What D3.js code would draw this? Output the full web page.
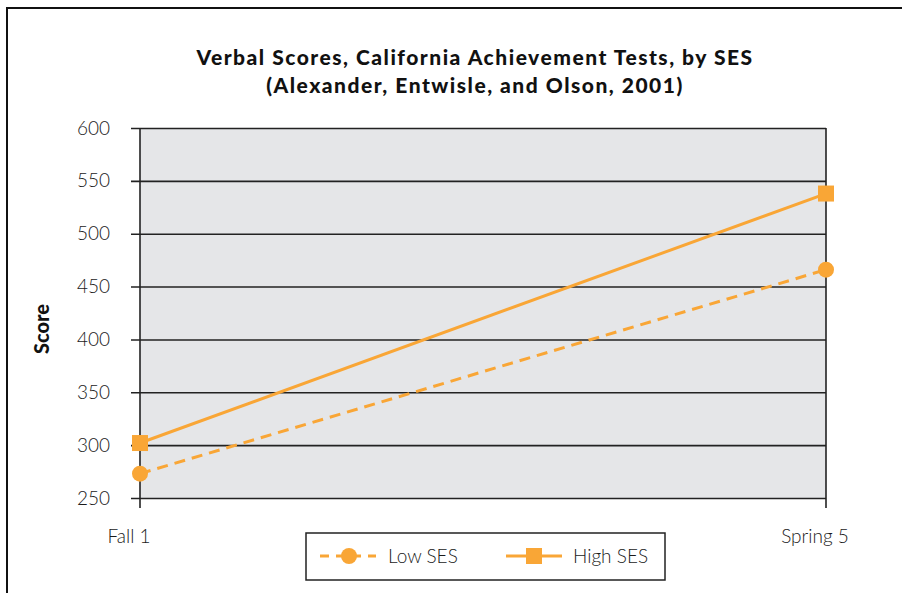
<!DOCTYPE html>
<html>
<head>
<meta charset="utf-8">
<script src="https://cdn.jsdelivr.net/npm/d3@7"></script>
<style>
	body { margin: 0; background: #fff; }
	svg text { font-family: Lato, "Open Sans", sans-serif; }
</style>
</head>
<body>
<script>
// Chart data
const periods = ['Fall 1', 'Spring 5'];
const lowSES = [273, 466];
const highSES = [302, 538];
const yTicks = [250, 300, 350, 400, 450, 500, 550, 600];
const titleLines = ['Verbal Scores, California Achievement Tests, by SES', '(Alexander, Entwisle, and Olson, 2001)'];

const W = 902, H = 593;
const margin = { top: 128, right: 76, bottom: 95, left: 140 };
const width = W - margin.left - margin.right;
const height = H - margin.top - margin.bottom;
const orange = '#F9A636';

const svg = d3.select('body').append('svg')
	.attr('width', W)
	.attr('height', H);

// outer frame
svg.append('rect')
	.attr('x', 7).attr('y', 8)
	.attr('width', 1000).attr('height', 1000)
	.attr('fill', 'none')
	.attr('stroke', '#111')
	.attr('stroke-width', 2);

// title
svg.append('g').selectAll('text')
	.data(titleLines)
	.enter().append('text')
	.attr('x', 475)
	.attr('y', (d, i) => 65 + i * 28)
	.attr('text-anchor', 'middle')
	.style('font-size', '21px')
	.style('font-weight', '900')
	.style('letter-spacing', '1.5px')
	.style('fill', '#111')
	.text(d => d);

const g = svg.append('g')
	.attr('transform', `translate(${margin.left}, ${margin.top})`);

const x = d3.scalePoint().domain(periods).range([0, width]);
const y = d3.scaleLinear().domain([250, 600]).range([height, 0]);

// plot background
g.append('rect')
	.attr('width', width)
	.attr('height', height)
	.attr('fill', '#E5E6E8');

// y axis with gridlines
const yAxis = g.append('g')
	.call(d3.axisLeft(y).tickValues(yTicks).tickSize(-width - 9).tickFormat(d3.format('d')));
yAxis.select('.domain').remove();
yAxis.selectAll('.tick line')
	.attr('x1', -9).attr('x2', width)
	.attr('stroke', '#222').attr('stroke-width', 1.6);
yAxis.selectAll('.tick text')
	.attr('x', -30)
	.style('font-size', '19px')
	.style('font-weight', '300')
	.style('fill', '#1a1a1a');

// vertical axis lines at category positions
g.selectAll('.vline')
	.data(periods)
	.enter().append('line')
	.attr('class', 'vline')
	.attr('x1', d => x(d)).attr('x2', d => x(d))
	.attr('y1', 0).attr('y2', height + 10)
	.attr('stroke', '#222').attr('stroke-width', 1.6);

// x labels
g.selectAll('.xlabel')
	.data(periods)
	.enter().append('text')
	.attr('class', 'xlabel')
	.attr('x', d => x(d) - 11)
	.attr('y', height + 45)
	.attr('text-anchor', 'middle')
	.style('font-size', '19px')
	.style('font-weight', '300')
	.style('fill', '#1a1a1a')
	.text(d => d);

// y axis title
svg.append('text')
	.attr('transform', 'rotate(-90)')
	.attr('x', -329)
	.attr('y', 49)
	.attr('text-anchor', 'middle')
	.style('font-size', '20px')
	.style('font-weight', '900')
	.style('fill', '#111')
	.text('Score');

const line = d3.line().x((d, i) => x(periods[i])).y(d => y(d));

// low SES
g.append('path')
	.datum(lowSES)
	.attr('d', line)
	.attr('fill', 'none')
	.attr('stroke', orange)
	.attr('stroke-width', 3)
	.attr('stroke-dasharray', '11,7');
g.selectAll('.lowpt')
	.data(lowSES)
	.enter().append('circle')
	.attr('cx', (d, i) => x(periods[i]))
	.attr('cy', d => y(d))
	.attr('r', 8)
	.attr('fill', orange);

// high SES
g.append('path')
	.datum(highSES)
	.attr('d', line)
	.attr('fill', 'none')
	.attr('stroke', orange)
	.attr('stroke-width', 3);
g.selectAll('.highpt')
	.data(highSES)
	.enter().append('rect')
	.attr('x', (d, i) => x(periods[i]) - 8)
	.attr('y', d => y(d) - 8)
	.attr('width', 16)
	.attr('height', 16)
	.attr('fill', orange);

// legend
const legend = svg.append('g').attr('transform', 'translate(306, 533)');
legend.append('rect')
	.attr('width', 359).attr('height', 47)
	.attr('fill', '#fff')
	.attr('stroke', '#222').attr('stroke-width', 1.5);

const low = legend.append('g').attr('transform', 'translate(14, 23)');
low.append('line').attr('x1', 0).attr('x2', 56)
	.attr('stroke', orange).attr('stroke-width', 3).attr('stroke-dasharray', '9,7');
low.append('circle').attr('cx', 29).attr('r', 8).attr('fill', orange);
low.append('text').attr('x', 68).attr('y', 7)
	.style('font-size', '19px').style('font-weight', '300').style('fill', '#1a1a1a').text('Low SES');

const high = legend.append('g').attr('transform', 'translate(200, 23)');
high.append('line').attr('x1', 0).attr('x2', 56)
	.attr('stroke', orange).attr('stroke-width', 3);
high.append('rect').attr('x', 20).attr('y', -8).attr('width', 16).attr('height', 16).attr('fill', orange);
high.append('text').attr('x', 67).attr('y', 7)
	.style('font-size', '19px').style('font-weight', '300').style('fill', '#1a1a1a').text('High SES');
</script>
</body>
</html>
